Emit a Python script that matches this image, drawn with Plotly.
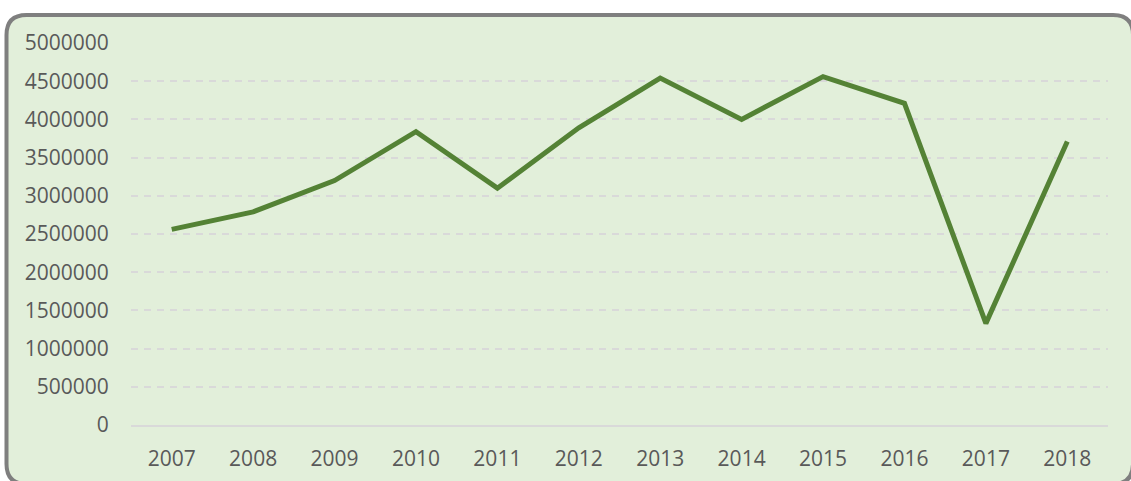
import plotly.graph_objects as go

years = ["2007", "2008", "2009", "2010", "2011", "2012", "2013", "2014", "2015", "2016", "2017", "2018"]
values = [2560000, 2790000, 3200000, 3840000, 3100000, 3890000, 4540000, 4000000, 4560000, 4210000, 1330000, 3710000]
y_ticks = [0, 500000, 1000000, 1500000, 2000000, 2500000, 3000000, 3500000, 4000000, 4500000, 5000000]

W, H = 1131, 481
ML, MR, MT, MB = 131, 23, 43, 56
PW, PH = W - ML - MR, H - MT - MB


def px(x):
    return (x - ML) / PW


def py(y):
    return (H - MB - y) / PH


def pt(x, y):
    return f"{px(x):.5f},{py(y):.5f}"


L, T, R, B, r = 6.5, 15, 1133, 484, 20
path = (
    f"M {pt(L + r, T)} L {pt(R - r, T)} Q {pt(R, T)} {pt(R, T + r)} "
    f"L {pt(R, B - r)} Q {pt(R, B)} {pt(R - r, B)} "
    f"L {pt(L + r, B)} Q {pt(L, B)} {pt(L, B - r)} "
    f"L {pt(L, T + r)} Q {pt(L, T)} {pt(L + r, T)} Z"
)

fig = go.Figure()
fig.add_trace(go.Scatter(
    x=years, y=values, mode="lines",
    line=dict(color="#548235", width=5),
    hoverinfo="skip", showlegend=False,
))

font = dict(family="Open Sans, sans-serif", size=21, color="#595959")

fig.update_layout(
    width=W, height=H, autosize=False,
    margin=dict(l=ML, r=MR, t=MT, b=MB, pad=0, autoexpand=False),
    paper_bgcolor="white",
    plot_bgcolor="rgba(0,0,0,0)",
    font=font,
    showlegend=False,
    shapes=[dict(
        type="path", path=path, xref="paper", yref="paper",
        fillcolor="#E2EFDA", line=dict(color="#7F7F7F", width=4),
        layer="below",
    )],
    xaxis=dict(
        type="category", range=[-0.5, len(years) - 0.5], automargin=False,
        showgrid=False, zeroline=False,
        showline=True, linecolor="#D9D9D9", linewidth=1.5,
        ticks="outside", ticklen=14, tickcolor="rgba(0,0,0,0)",
        tickfont=font,
    ),
    yaxis=dict(
        range=[0, 5000000], tickvals=y_ticks, ticktext=[str(v) for v in y_ticks],
        automargin=False,
        showgrid=True, gridcolor="#D9D9D9", gridwidth=1.5, griddash="7px,6px",
        zeroline=False, showline=False,
        ticks="outside", ticklen=17, tickcolor="rgba(0,0,0,0)",
        tickfont=font,
    ),
)

fig.write_html(
    "out.html",
    config={"displayModeBar": False},
    post_script="document.body.style.margin='0';document.body.style.overflow='hidden';",
)
